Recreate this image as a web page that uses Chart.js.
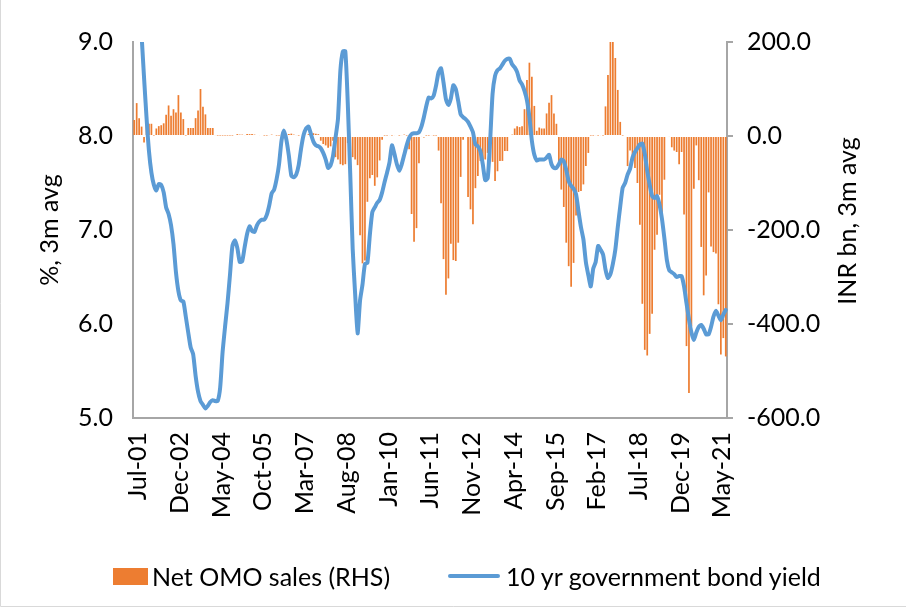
<!DOCTYPE html>
<html lang="en">
<head>
    <meta charset="UTF-8">
    <title>Net OMO sales and 10 yr G-sec yield</title>
    <script src="https://cdn.jsdelivr.net/npm/chart.js"></script>
    <style>
        body { margin: 0; background: #fff; font-family: 'Lato', sans-serif; }
        .wrap { position: relative; width: 906px; height: 608px; }
        canvas { position: absolute; left: 0; top: 0; }
        .lg { position: absolute; font-size: 25px; color: #000; line-height: 26px; white-space: nowrap; }
        .lg-box { position: absolute; background: #ED7D31; }
        .lg-line { position: absolute; background: #5B9BD5; border-radius: 2px; }
    </style>
</head>
<body>
<div class="wrap">
    <canvas id="omoChart" width="906" height="608"></canvas>
    <div class="lg-box" style="left:113px; top:568px; width:35px; height:17px;"></div>
    <div class="lg" style="left:152px; top:563px;">Net OMO sales (RHS)</div>
    <div class="lg-line" style="left:448px; top:574px; width:52px; height:4px;"></div>
    <div class="lg" style="left:506px; top:563px;">10 yr government bond yield</div>
</div>

<script>
    // monthly, Jul-01 .. Aug-21
    const startYear = 2001, startMonth = 6, monthCount = 242;
    const monthNames = ['Jan','Feb','Mar','Apr','May','Jun','Jul','Aug','Sep','Oct','Nov','Dec'];

    // 10 yr government bond yield, %, 3m avg
    const bondYield = [
        9.90, 9.70, 9.45, 9.07, 8.62, 8.20, 7.84, 7.61, 7.48, 7.42,
        7.49, 7.48, 7.40, 7.24, 7.17, 7.05, 6.85, 6.55, 6.35, 6.25,
        6.24, 6.08, 5.91, 5.75, 5.68, 5.45, 5.28, 5.18, 5.14, 5.10,
        5.13, 5.17, 5.19, 5.18, 5.18, 5.32, 5.70, 5.97, 6.22, 6.52,
        6.83, 6.89, 6.81, 6.66, 6.67, 6.82, 6.96, 7.04, 6.99, 6.98,
        7.05, 7.09, 7.11, 7.11, 7.16, 7.26, 7.39, 7.43, 7.54, 7.70,
        7.95, 8.06, 7.96, 7.79, 7.58, 7.56, 7.59, 7.69, 7.87, 8.01,
        8.08, 8.10, 8.02, 7.94, 7.90, 7.89, 7.87, 7.82, 7.75, 7.66,
        7.69, 7.79, 7.98, 8.18, 8.70, 8.90, 8.90, 8.35, 7.60, 6.80,
        6.32, 5.90, 6.25, 6.42, 6.64, 6.65, 6.95, 7.19, 7.24, 7.29,
        7.32, 7.40, 7.51, 7.61, 7.72, 7.90, 7.81, 7.70, 7.63, 7.70,
        7.80, 7.90, 7.98, 8.02, 8.03, 8.03, 8.04, 8.10, 8.20, 8.32,
        8.41, 8.40, 8.43, 8.54, 8.68, 8.72, 8.57, 8.39, 8.33, 8.40,
        8.54, 8.50, 8.37, 8.23, 8.20, 8.18, 8.15, 8.10, 8.04, 7.91,
        7.89, 7.84, 7.70, 7.53, 7.55, 7.95, 8.45, 8.64, 8.70, 8.72,
        8.76, 8.80, 8.82, 8.82, 8.76, 8.73, 8.68, 8.59, 8.55, 8.48,
        8.38, 8.20, 7.95, 7.80, 7.74, 7.75, 7.75, 7.75, 7.77, 7.80,
        7.70, 7.66, 7.66, 7.70, 7.75, 7.73, 7.64, 7.52, 7.47, 7.44,
        7.38, 7.20, 7.03, 6.90, 6.66, 6.52, 6.40, 6.59, 6.66, 6.83,
        6.79, 6.74, 6.58, 6.49, 6.53, 6.64, 6.79, 7.03, 7.25, 7.45,
        7.50, 7.59, 7.65, 7.77, 7.83, 7.87, 7.91, 7.92, 7.81, 7.63,
        7.48, 7.36, 7.34, 7.36, 7.27, 7.12, 6.91, 6.68, 6.57, 6.55,
        6.53, 6.50, 6.51, 6.51, 6.40, 6.22, 6.05, 5.91, 5.83, 5.91,
        5.97, 5.99, 5.95, 5.89, 5.89, 5.97, 6.08, 6.14, 6.09, 6.04,
        6.10, 6.15
    ];

    // Net OMO sales, INR bn, 3m avg (RHS)
    const omoSales = [
        34, 70, 38, 20, -14, 30, 26, 26, 1, 16,
        21, 23, 27, 45, 65, 43, 57, 50, 87, 50,
        36, 1, 17, 17, 17, 38, 54, 100, 62, 46,
        17, 17, 17, 2, 1, 1, 1, 1, 1, 1,
        1, 2, 4, 3, 3, 2, 4, 4, 4, 3,
        2, 2, 2, 1, 1, 2, 3, 2, 1, 1,
        2, 2, 3, 4, 5, 3, 2, 1, 2, 3,
        2, 4, 5, 6, 5, 4, -10, -17, -20, -25,
        -22, -10, -45, -50, -60, -62, -60, -15, -40, -45,
        -50, -62, -211, -271, -265, -140, -90, -83, -106, -88,
        -52, -8, 1, 1, 2, 1, 2, 2, 1, 2,
        3, 1, -28, -166, -225, -196, -58, -2, -3, 1,
        1, 2, 1, 1, -31, -143, -262, -338, -303, -229,
        -264, -266, -227, -87, -8, 0, -130, -156, -188, -111,
        -85, -53, -60, -50, -36, -26, -55, -96, -75, -53,
        -53, -32, -32, 0, 3, 16, 21, 19, 21, 57,
        119, 156, 126, 64, 11, 18, 16, 16, 48, 71,
        87, 48, 26, -55, -114, -151, -227, -277, -321, -270,
        -169, -119, -117, -103, -64, -36, 1, 1, 2, 1,
        2, 1, 63, 130, 200, 200, 166, 98, 30, 1,
        -2, -64, -31, -46, -68, -100, -189, -357, -455, -467,
        -421, -378, -242, -210, -125, -174, -93, -2, -2, -24,
        -31, -34, -60, -34, -167, -447, -547, -405, -112, -20,
        -94, -236, -339, -297, -120, -235, -247, -250, -358, -465,
        -430, -469
    ];

    const labelEvery = 17;
    const leftTicks = [5, 6, 7, 8, 9];
    const rightTicks = [-600, -400, -200, 0, 200];

    let months = [];
    for (let k = 0; k < monthCount; k++) {
        let m = (startMonth + k) % 12;
        let y = startYear + Math.floor((startMonth + k) / 12);
        months.push(monthNames[m] + '-' + String(y % 100).padStart(2, '0'));
    }

    const axisGrey = '#a6a6a6';
    const fontName = 'Lato';
    const fontSize = 25;

    // axis titles are drawn by hand so both read bottom-to-top like the original
    const sideTitles = {
        id: 'sideTitles',
        afterDraw(chart) {
            let ctx = chart.ctx;
            ctx.save();
            ctx.fillStyle = '#000';
            ctx.font = fontSize + 'px ' + fontName;
            ctx.textAlign = 'center';
            ctx.textBaseline = 'middle';
            ctx.translate(50, 230);
            ctx.rotate(-Math.PI / 2);
            ctx.fillText('%, 3m avg', 0, 0);
            ctx.restore();

            ctx.save();
            ctx.fillStyle = '#000';
            ctx.font = fontSize + 'px ' + fontName;
            ctx.textAlign = 'center';
            ctx.textBaseline = 'middle';
            ctx.translate(848, 221);
            ctx.rotate(-Math.PI / 2);
            ctx.fillText('INR bn, 3m avg', 0, 0);
            ctx.restore();

            // chart frame, left and bottom edges
            ctx.save();
            ctx.strokeStyle = '#d9d9d9';
            ctx.lineWidth = 1;
            ctx.beginPath();
            ctx.moveTo(0.5, 0);
            ctx.lineTo(0.5, 606.5);
            ctx.lineTo(906, 606.5);
            ctx.stroke();
            ctx.restore();
        }
    };

    let ctx1 = document.getElementById('omoChart').getContext('2d');
    new Chart(ctx1, {
        type: 'bar',
        data: {
            labels: months,
            datasets: [
                {
                    type: 'line',
                    label: '10 yr government bond yield',
                    data: bondYield,
                    yAxisID: 'y',
                    borderColor: '#5B9BD5',
                    backgroundColor: '#5B9BD5',
                    borderWidth: 4,
                    pointRadius: 0,
                    tension: 0.2,
                    borderCapStyle: 'round',
                    borderJoinStyle: 'round',
                    order: 0
                },
                {
                    type: 'bar',
                    label: 'Net OMO sales (RHS)',
                    data: omoSales,
                    yAxisID: 'y1',
                    backgroundColor: '#ED7D31',
                    borderWidth: 0,
                    barPercentage: 0.7,
                    categoryPercentage: 1.0,
                    order: 1
                }
            ]
        },
        options: {
            responsive: false,
            animation: false,
            layout: { padding: { top: 42, bottom: 90, left: 0, right: 0 } },
            plugins: {
                legend: { display: false },
                tooltip: { enabled: false }
            },
            scales: {
                x: {
                    grid: { display: false, drawTicks: false },
                    border: { display: true, color: axisGrey, width: 2 },
                    ticks: {
                        autoSkip: false,
                        minRotation: 90,
                        maxRotation: 90,
                        padding: 14,
                        labelOffset: 4,
                        color: '#000',
                        font: { family: fontName, size: fontSize },
                        callback: function (value, index) {
                            return index % labelEvery === 0 ? this.getLabelForValue(value) : '';
                        }
                    },
                    afterFit: function (scale) { scale.height = 100; }
                },
                y: {
                    position: 'left',
                    min: leftTicks[0],
                    max: leftTicks[leftTicks.length - 1],
                    grid: { display: false, drawTicks: false },
                    border: { display: true, color: axisGrey, width: 2 },
                    afterBuildTicks: function (scale) {
                        scale.ticks = leftTicks.map(v => ({ value: v }));
                    },
                    ticks: {
                        padding: 20,
                        color: '#000',
                        font: { family: fontName, size: fontSize },
                        callback: v => v.toFixed(1)
                    },
                    afterFit: function (scale) { scale.width = 133; }
                },
                y1: {
                    position: 'right',
                    min: rightTicks[0],
                    max: rightTicks[rightTicks.length - 1],
                    grid: { drawOnChartArea: false, drawTicks: true, tickLength: 6, color: axisGrey, lineWidth: 2 },
                    border: { display: true, color: axisGrey, width: 2 },
                    afterBuildTicks: function (scale) {
                        scale.ticks = rightTicks.map(v => ({ value: v }));
                    },
                    ticks: {
                        padding: 14,
                        color: '#000',
                        font: { family: fontName, size: fontSize },
                        callback: v => v.toFixed(1)
                    },
                    afterFit: function (scale) { scale.width = 179; }
                }
            }
        },
        plugins: [sideTitles]
    });
</script>
</body>
</html>
